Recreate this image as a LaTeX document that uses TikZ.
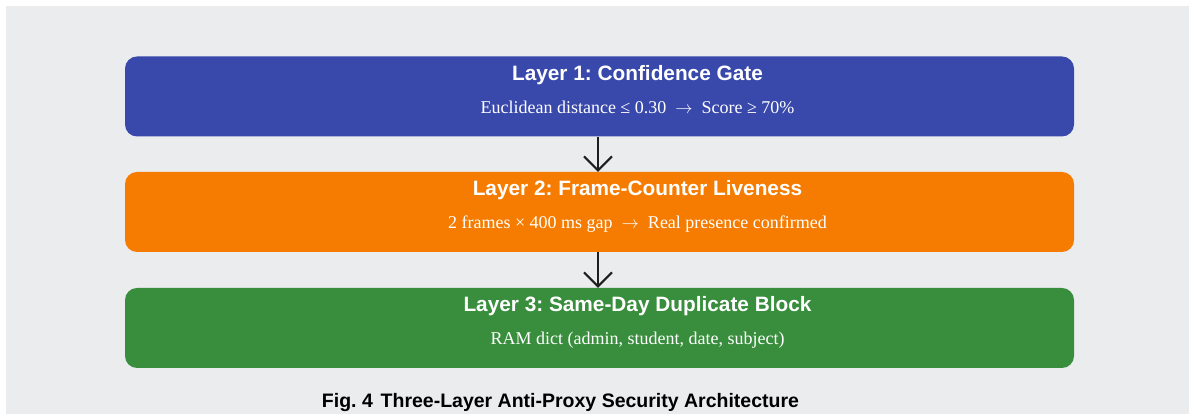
\documentclass[tikz,border=0pt]{standalone}
\usepackage{fontspec}
\setmainfont{Liberation Serif}
\setsansfont{Liberation Sans}
\usetikzlibrary{arrows.meta, positioning}
\definecolor{layerblue}{HTML}{3949AB}
\definecolor{layerorange}{HTML}{F57C00}
\definecolor{layergreen}{HTML}{388E3C}
\definecolor{panelgray}{HTML}{EBECEE}
\definecolor{arrowdark}{HTML}{1E1E1E}
\frenchspacing
\begin{document}
\begin{tikzpicture}[x=1pt, y=1pt,
    layer/.style={rectangle, rounded corners=12pt, minimum width=949pt, minimum height=80pt, inner sep=0pt},
    heading/.style={text=white, font=\sffamily\bfseries\fontsize{20.8}{24}\selectfont, inner sep=0pt, anchor=base},
    detail/.style={text=white, font=\fontsize{18}{21}\selectfont, inner sep=0pt, anchor=base},
    flow/.style={arrowdark, line width=2pt, -{Straight Barb[length=14pt, width=28pt, line width=2pt]}}]
  % page and panel
  \fill[white] (0,0) rectangle (1189,414);
  \useasboundingbox (0,0) rectangle (1189,414);
  \fill[panelgray] (6,0) rectangle (1189,408);

  % the three layers
  \node[layer, fill=layerblue] (l1) at (599.5,317.5) {};
  \node[layer, fill=layerorange] (l2) at (599.5,202) {};
  \node[layer, fill=layergreen] (l3) at (599.5,86) {};

  \node[heading] (h1) at ([xshift=38pt, yshift=-24pt]l1.north) {Layer 1: Confidence Gate};
  \node[detail] (d1) at ([xshift=38pt, yshift=-57pt]l1.north) {Euclidean distance ≤ 0.30 \ $\rightarrow$ \ Score ≥ 70\%};
  \node[heading] (h2) at ([xshift=38pt, yshift=-24pt]l2.north) {Layer 2: Frame-Counter Liveness};
  \node[detail] (d2) at ([xshift=38pt, yshift=-57pt]l2.north) {2 frames × 400 ms gap \ $\rightarrow$ \ Real presence confirmed};
  \node[heading] (h3) at ([xshift=38pt, yshift=-24pt]l3.north) {Layer 3: Same-Day Duplicate Block};
  \node[detail] (d3) at ([xshift=38pt, yshift=-57pt]l3.north) {RAM dict (admin, student, date, subject)};

  % arrows between layers
  \draw[flow] ([xshift=-1.5pt]l1.south) -- ([xshift=-1.5pt]l2.north);
  \draw[flow] ([xshift=-1.5pt]l2.south) -- ([xshift=-1.5pt]l3.north);

  % caption
  \node[anchor=base, inner sep=0pt, font=\sffamily\bfseries\fontsize{19.5}{23}\selectfont] (cap) at (560.5,6)
    {Fig.~4\hspace{0.4em}Three-Layer Anti-Proxy Security Architecture};
\end{tikzpicture}
\end{document}
